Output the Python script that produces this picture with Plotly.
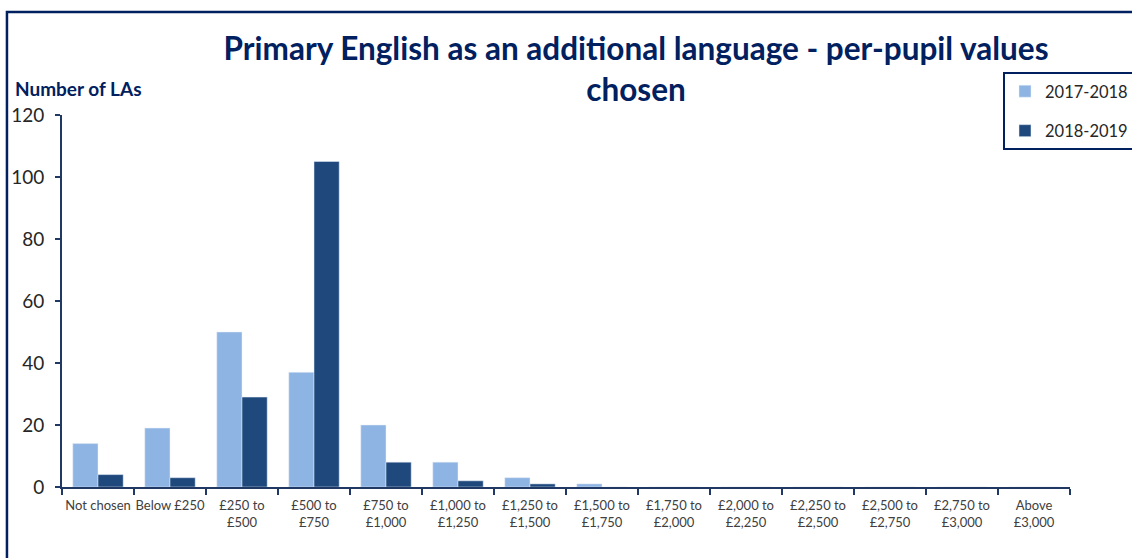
import plotly.graph_objects as go

categories = ["Not chosen", "Below £250", "£250 to<br>£500", "£500 to<br>£750", "£750 to<br>£1,000",
              "£1,000 to<br>£1,250", "£1,250 to<br>£1,500", "£1,500 to<br>£1,750", "£1,750 to<br>£2,000",
              "£2,000 to<br>£2,250", "£2,250 to<br>£2,500", "£2,500 to<br>£2,750", "£2,750 to<br>£3,000",
              "Above<br>£3,000"]
values_2017_2018 = [14, 19, 50, 37, 20, 8, 3, 1, 0, 0, 0, 0, 0, 0]
values_2018_2019 = [4, 3, 29, 105, 8, 2, 1, 0, 0, 0, 0, 0, 0, 0]
y_ticks = [0, 20, 40, 60, 80, 100, 120]

NAVY = "#1F3864"
FONT = "Lato"

fig = go.Figure()
fig.add_trace(go.Bar(x=categories, y=values_2017_2018, name="2017-2018",
                     marker_color="#8EB4E3", legendgroup="a"))
fig.add_trace(go.Bar(x=categories, y=values_2018_2019, name="2018-2019",
                     marker_color="#1F497D", legendgroup="b"))

fig.update_layout(
    width=1132, height=558,
    margin=dict(l=62, r=62, t=115, b=71, autoexpand=False),
    paper_bgcolor="white", plot_bgcolor="white",
    barmode="group", bargap=0.3, bargroupgap=0,
    title=dict(text="<b>Primary English as an additional language - per-pupil values<br>chosen</b>",
               x=0.5619, xanchor="center", y=0.893, yanchor="top",
               font=dict(family=FONT, size=31.5, color="#002060")),
    legend=dict(x=(1003 - 62) / 1008, xanchor="left", y=1.1156, yanchor="top",
                bordercolor="#002060", borderwidth=2, bgcolor="white",
                font=dict(family=FONT, size=16.5, color="#262626"),
                tracegroupgap=15, itemwidth=30),
    showlegend=True,
    xaxis=dict(showline=True, linecolor=NAVY, linewidth=2, ticks="outside",
               tickson="boundaries", ticklen=6, tickcolor=NAVY, tickwidth=2, tickangle=0,
               automargin=False, ticklabelstandoff=5,
               tickfont=dict(family=FONT, size=13, color="#404040"), showgrid=False),
    yaxis=dict(range=[0, 120], tickvals=y_ticks, showline=True, linecolor=NAVY, linewidth=2,
               ticks="outside", ticklen=5, tickcolor=NAVY, tickwidth=2, showgrid=False,
               automargin=False, ticklabelstandoff=7,
               zeroline=False, tickfont=dict(family=FONT, size=19, color="#262626")),
    annotations=[dict(text="<b>Number of LAs</b>", xref="paper", yref="paper",
                      x=-0.0486, y=1.07, xanchor="left", yanchor="middle", showarrow=False,
                      font=dict(family=FONT, size=19, color="#002060"))],
    shapes=[dict(type="rect", xref="paper", yref="paper", x0=-0.0546, y0=-0.5, x1=1.2, y1=1.277,
                 line=dict(color="#002060", width=2.5), fillcolor="rgba(0,0,0,0)")],
)

fig.write_html("out.html", config={"displayModeBar": False},
               post_script="document.body.style.margin='0';")
